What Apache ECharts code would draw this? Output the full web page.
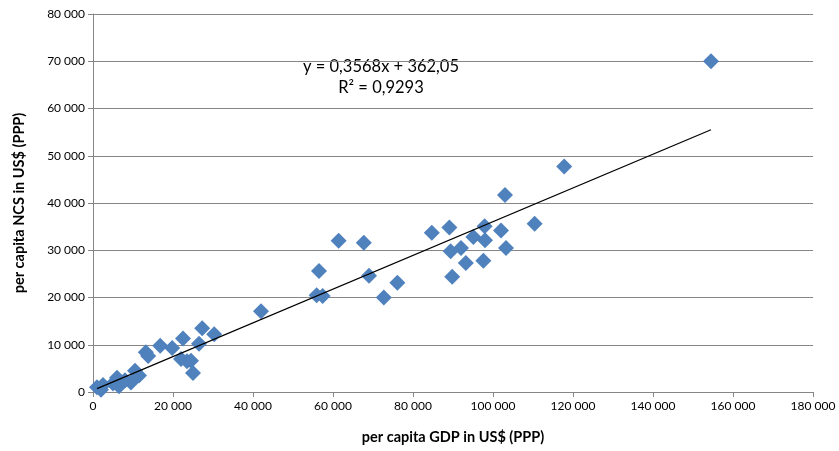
<!DOCTYPE html>
<html><head><meta charset="utf-8">
<script src="https://cdn.jsdelivr.net/npm/echarts@6/dist/echarts.min.js"></script>
<style>html,body{margin:0;padding:0;background:#fff}#c{width:839px;height:451px}</style>
</head><body><div id="c"></div>
<script>
const gdp = [1000,2000,2500,5000,6000,6500,8000,9500,10500,11500,13200,13800,16800,19800,22500,22000,23500,24500,25000,26500,27300,30300,
  42000,55900,56500,57400,61400,67700,69000,72700,76100,84700,89100,89400,89800,92000,93200,95100,97600,97900,98000,102000,103000,103250,110400,117800,154500];
const ncs = [1000,500,1500,1800,3000,1200,2500,2000,4500,3500,8400,7600,9800,9300,11300,7000,6500,6600,4000,10200,13500,12200,
  17100,20500,25600,20300,32000,31600,24600,20000,23100,33700,34800,29800,24400,30500,27300,32800,27800,35100,32100,34200,41700,30500,35600,47700,70000];
const slope = 0.3568, intercept = 362.05;
const trendX = [1000, 154500];
const eqText = ['y = 0,3568x + 362,05', 'R\u00b2 = 0,9293'];
const fmt = v => String(v).replace(/\B(?=(\d{3})+(?!\d))/g, ' ');
const chart = echarts.init(document.getElementById('c'));
const font = 'Lato, "Open Sans", sans-serif';
chart.setOption({
  animation: false,
  grid: {left: 93, right: 26, top: 14, bottom: 59},
  xAxis: {type: 'value', min: 0, max: 180000, interval: 20000,
    name: 'per capita GDP in US$ (PPP)', nameLocation: 'middle', nameGap: 38,
    nameTextStyle: {fontFamily: font, fontWeight: 'bold', fontSize: 14.5, color: '#000'},
    axisLine: {lineStyle: {color: '#868686'}}, axisTick: {show: true, length: 5, lineStyle: {color: '#868686'}},
    axisLabel: {formatter: fmt, fontFamily: font, fontSize: 12, color: '#000', margin: 8},
    splitLine: {show: false}},
  yAxis: {type: 'value', min: 0, max: 80000, interval: 10000,
    name: 'per capita NCS in US$ (PPP)', nameLocation: 'middle', nameGap: 66,
    nameTextStyle: {fontFamily: font, fontWeight: 'bold', fontSize: 14.5, color: '#000'},
    axisLine: {show: true, lineStyle: {color: '#868686'}}, axisTick: {show: true, length: 5, lineStyle: {color: '#868686'}},
    axisLabel: {formatter: fmt, fontFamily: font, fontSize: 12, color: '#000', margin: 8},
    splitLine: {lineStyle: {color: '#868686'}}},
  series: [
    {type: 'scatter', symbol: 'diamond', symbolSize: 16, itemStyle: {color: '#4F81BD', opacity: 1},
      data: gdp.map((x, i) => [x, ncs[i]]), z: 2},
    {type: 'line', symbol: 'none', lineStyle: {color: '#000', width: 1.2}, z: 3,
      data: trendX.map(x => [x, slope * x + intercept])}
  ],
  graphic: [
    {type: 'text', style: {text: eqText[0], x: 381, y: 67, align: 'center', verticalAlign: 'middle', font: '16.5px ' + font, fill: '#000'}},
    {type: 'text', style: {text: eqText[1], x: 381, y: 88, align: 'center', verticalAlign: 'middle', font: '16.5px ' + font, fill: '#000'}}
  ]
});
</script></body></html>
